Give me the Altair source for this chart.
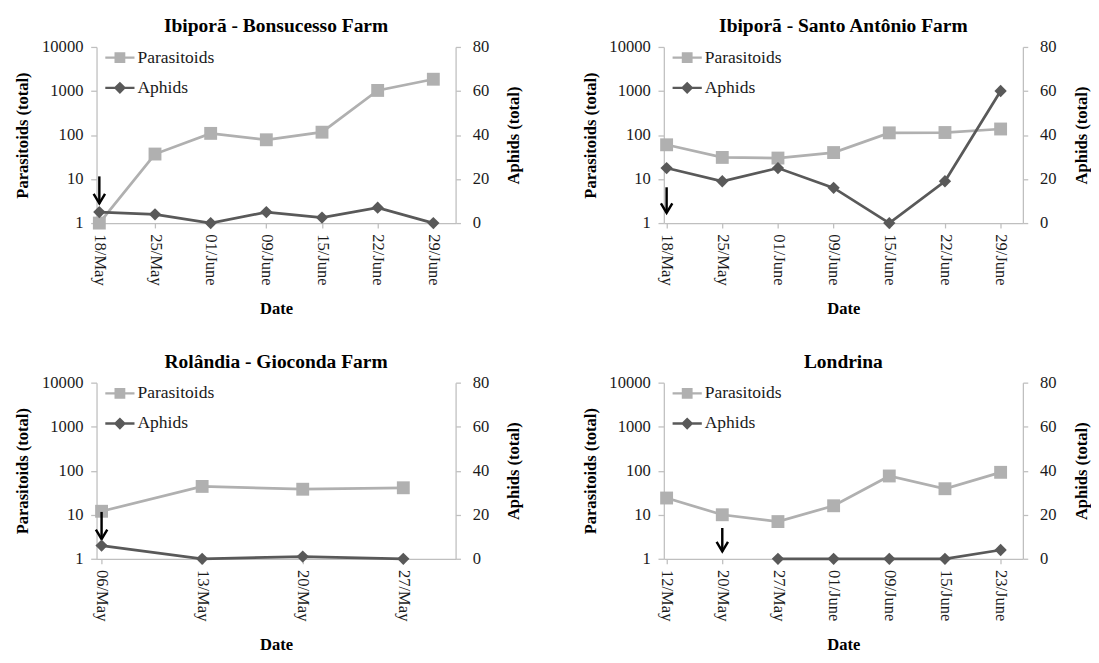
import json
import pandas as pd
import altair as alt

FONT = "'Liberation Serif', 'Times New Roman', 'DejaVu Serif', serif"
PAR_COLOR = "#b0b0b0"
APH_COLOR = "#595959"
AXIS_COLOR = "#bfbfbf"
TEXT_COLOR = "#1a1a1a"

# ---- data ----
titles = ["Ibiporã - Bonsucesso Farm", "Ibiporã - Santo Antônio Farm",
          "Rolândia - Gioconda Farm", "Londrina"]

p1_dates = ["18/May", "25/May", "01/June", "09/June", "15/June", "22/June", "29/June"]
p1_par = [1, 37, 109, 78, 116, 1030, 1850]
p1_aph = [5, 4, 0, 5, 2.5, 7, 0]

p2_dates = ["18/May", "25/May", "01/June", "09/June", "15/June", "22/June", "29/June"]
p2_par = [60, 31, 30, 40, 112, 114, 137]
p2_aph = [25, 19, 25, 16, 0, 19, 60]

p3_dates = ["06/May", "13/May", "20/May", "27/May"]
p3_par = [12, 44, 38, 41]
p3_aph = [6, 0, 1, 0]

p4_dates = ["12/May", "20/May", "27/May", "01/June", "09/June", "15/June", "23/June"]
p4_par = [24, 10, 7, 16, 76, 39, 92]
p4_aph = [None, None, 0, 0, 0, 0, 4]

arrow_idx = [0, 0, 0, 1]
arrow_top = [11.5, 6.5, 11.6, 5.0]
arrow_tip = [2.8, 1.7, 2.8, 1.47]

series_names = ["Parasitoids", "Aphids"]

# ---- symbols ----
SQUARE_LEG = "M-1,-0.08H1V0.08H-1Z M-0.37,-0.37H0.37V0.37H-0.37Z"
DIAMOND_LEG = "M-1,-0.08H1V0.08H-1Z M0,-0.42L0.42,0L0,0.42L-0.42,0Z"
CHEVRON = "M-0.6,-1L0,0L0.6,-1"


def make_panel(title, dates, par, aph, a_idx, a_top, a_tip, x_lo, x_hi):
    n = len(dates)
    par_df = pd.DataFrame({"idx": list(range(n)), "value": par, "series": "Parasitoids"})
    aph_df = pd.DataFrame({"idx": list(range(n)), "value": aph, "series": "Aphids"}).dropna()
    arrow_df = pd.DataFrame({"idx": [a_idx], "value": [a_top], "tip": [a_tip]})

    label_expr = json.dumps(dates) + "[round(datum.value)]"
    x_enc = alt.X(
        "idx:Q",
        scale=alt.Scale(domain=[x_lo, x_hi], nice=False, zero=False),
        axis=alt.Axis(values=list(range(n)), labelExpr=label_expr, labelAngle=90,
                      title="Date", tickSize=5, labelPadding=6, titlePadding=16,
                      labelFontSize=17, titleFontSize=17),
    )
    left_scale = alt.Scale(type="log", domain=[1, 10000], nice=False)
    left_axis = alt.Axis(values=[1, 10, 100, 1000, 10000], format="d",
                         title="Parasitoids (total)", orient="left", tickSize=6,
                         labelPadding=8, titlePadding=10)
    y_left = alt.Y("value:Q", scale=left_scale, axis=left_axis)
    y_tip = alt.Y("tip:Q", scale=left_scale, axis=left_axis)

    right_axis = alt.Axis(values=[0, 20, 40, 60, 80], title="Aphids (total)",
                          orient="right", tickSize=5, labelPadding=12,
                          titlePadding=18, titleAngle=270, titleBaseline="top")
    y_right = alt.Y("value:Q", scale=alt.Scale(domain=[0, 80], nice=False), axis=right_axis)

    par_base = alt.Chart(par_df)
    par_line = par_base.mark_line(color=PAR_COLOR, strokeWidth=2.8).encode(x=x_enc, y=y_left)
    par_pts = par_base.mark_point(shape="square", filled=True, color=PAR_COLOR,
                                  size=175, opacity=1).encode(x=x_enc, y=y_left)

    arrow_base = alt.Chart(arrow_df)
    arrow_rule = arrow_base.mark_rule(color="black", strokeWidth=2.5).encode(
        x=x_enc, y=y_left, y2=alt.Y2("tip:Q"))
    arrow_head = arrow_base.mark_point(shape=CHEVRON, filled=False, color="black",
                                       strokeWidth=2.5, size=380, opacity=1).encode(x=x_enc, y=y_tip)

    leg = alt.Legend(title=None, orient="none", legendX=9, legendY=-4,
                     symbolSize=900, symbolStrokeWidth=0, symbolOpacity=1,
                     labelFont=FONT, labelFontSize=18, labelColor=TEXT_COLOR,
                     rowPadding=7, labelOffset=3, padding=0)
    legend_layer = par_base.transform_filter("datum.idx < 0").mark_point(
        filled=True, opacity=1).encode(
        x=x_enc, y=y_left,
        color=alt.Color("series:N", scale=alt.Scale(domain=series_names,
                                                    range=[PAR_COLOR, APH_COLOR]), legend=leg),
        shape=alt.Shape("series:N", scale=alt.Scale(domain=series_names,
                                                    range=[SQUARE_LEG, DIAMOND_LEG]), legend=leg),
    )

    left = alt.layer(par_line, par_pts, arrow_rule, arrow_head, legend_layer)

    aph_base = alt.Chart(aph_df)
    aph_line = aph_base.mark_line(color=APH_COLOR, strokeWidth=2.8).encode(x=x_enc, y=y_right)
    aph_pts = aph_base.mark_point(shape="diamond", filled=True, color=APH_COLOR,
                                  size=160, opacity=1).encode(x=x_enc, y=y_right)
    right = alt.layer(aph_line, aph_pts)

    return alt.layer(left, right).resolve_scale(y="independent").properties(
        width=369, height=181,
        title=alt.TitleParams(title, font=FONT, fontSize=20, fontWeight="bold",
                              color="black", offset=2, anchor="middle"),
    )


panels = [
    make_panel(titles[0], p1_dates, p1_par, p1_aph, arrow_idx[0], arrow_top[0], arrow_tip[0], -0.05, 6.40),
    make_panel(titles[1], p2_dates, p2_par, p2_aph, arrow_idx[1], arrow_top[1], arrow_tip[1], -0.05, 6.40),
    make_panel(titles[2], p3_dates, p3_par, p3_aph, arrow_idx[2], arrow_top[2], arrow_tip[2], -0.05, 3.52),
    make_panel(titles[3], p4_dates, p4_par, p4_aph, arrow_idx[3], arrow_top[3], arrow_tip[3], -0.05, 6.40),
]

chart = alt.concat(*panels, columns=2, spacing={"row": 37, "column": 61}).resolve_scale(
    color="independent", shape="independent"
).resolve_legend(
    color="independent", shape="independent"
).configure(
    background="white", padding={"left": 6, "top": 0, "right": 2, "bottom": 0}
).configure_view(
    strokeWidth=0
).configure_axis(
    grid=False, domainColor=AXIS_COLOR, domainWidth=1.3, tickColor=AXIS_COLOR,
    tickWidth=1.3, labelFont=FONT, labelFontSize=17, labelColor=TEXT_COLOR,
    titleFont=FONT, titleFontSize=17, titleFontWeight="bold", titleColor="black",
)

chart.save("out.html", embed_options={"renderer": "svg", "actions": False})
